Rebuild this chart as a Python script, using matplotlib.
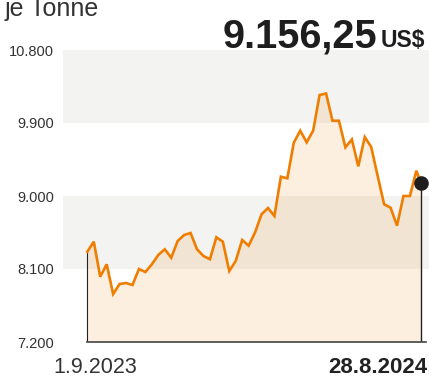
import numpy as np
import matplotlib
matplotlib.use("Agg")
import matplotlib.pyplot as plt
import matplotlib.dates as mdates
import datetime as dt

# ---- data ----
start_date = dt.date(2023, 9, 1)
end_date = dt.date(2024, 8, 28)
weekly_values = [8313, 8437, 8005, 8158, 7792, 7915, 7927, 7903, 8100, 8063,
                 8158, 8273, 8343, 8239, 8445, 8519, 8544, 8343, 8260, 8220,
                 8491, 8437, 8075, 8199, 8458, 8387, 8552, 8774, 8852, 8753,
                 9238, 9218, 9657, 9805, 9662, 9805, 10245, 10264, 9928, 9928,
                 9600, 9697, 9366, 9727, 9604, 9247, 8898, 8856, 8634, 9000,
                 9000, 9312]
last_value = 9156.25
y_ticks = [7200, 8100, 9000, 9900, 10800]
y_tick_labels = ["7.200", "8.100", "9.000", "9.900", "10.800"]
bands = [(8100, 9000), (9900, 10800)]
title_value = "9.156,25"
title_unit = "US$"
subtitle = "je Tonne"
x_label_start = "1.9.2023"
x_label_end = "28.8.2024"

dates = [start_date + dt.timedelta(days=7 * i) for i in range(len(weekly_values))] + [end_date]
values = weekly_values + [last_value]
x = mdates.date2num(dates)

W, H = 429, 376
fig = plt.figure(figsize=(W / 100, H / 100), dpi=100)
ax = fig.add_axes([63 / W, (H - 342) / H, (W - 63) / W, (342 - 50) / H])

fam = ['Liberation Sans', 'DejaVu Sans']
txtcol = '#333333'

x0 = x[0] - 26.4
x1 = x[-1] + 8.7
ax.set_xlim(x0, x1)
ax.set_ylim(7200, 10800)

for lo, hi in bands:
    ax.axhspan(lo, hi, color='#f3f3f1', lw=0, zorder=0)

orange = '#ef7d00'
ax.fill_between(x, values, 7200, color=orange, alpha=0.12, lw=0, zorder=1)
ax.plot(x, values, color=orange, lw=1.9, solid_joinstyle='miter', zorder=3)
ax.plot([x[0], x[0]], [7200, values[0]], color='#222222', lw=0.8, zorder=2)
ax.plot([x[-1], x[-1]], [7200, values[-1]], color='#222222', lw=1.0, zorder=2)
ax.plot([x[0], x[-1] + 5.4], [7200, 7200], color='#444444', lw=1.2, zorder=4, clip_on=False)
ax.plot([x[-1]], [values[-1]], 'o', color='#1e1e1e', ms=9.5, zorder=5)

for s in ax.spines.values():
    s.set_visible(False)
ax.set_xticks([])
ax.set_yticks(y_ticks)
ax.set_yticklabels(y_tick_labels, family=fam, fontsize=10.5, color=txtcol)
ax.tick_params(axis='y', length=0, pad=6.5)

# x labels
fig.text(95 / W, 1 - 357 / H, x_label_start, ha='center', va='top',
         family=fam, fontsize=15.5, color=txtcol)
fig.text(427 / W, 1 - 357 / H, x_label_end, ha='right', va='top',
         family=fam, fontsize=16, weight='bold', color='#222222')

# header
fig.text(5 / W, 1 - 16 / H, subtitle, ha='left', va='baseline',
         family=fam, fontsize=18, color=txtcol)
fig.text(377 / W, 1 - 47 / H, title_value, ha='right', va='baseline',
         family=fam, fontsize=28.5, weight='bold', color='#1e1e1e')
fig.text(425 / W, 1 - 47 / H, title_unit, ha='right', va='baseline',
         family=fam, fontsize=16.5, weight='bold', color='#1e1e1e')

fig.savefig('out.png', dpi=100)
